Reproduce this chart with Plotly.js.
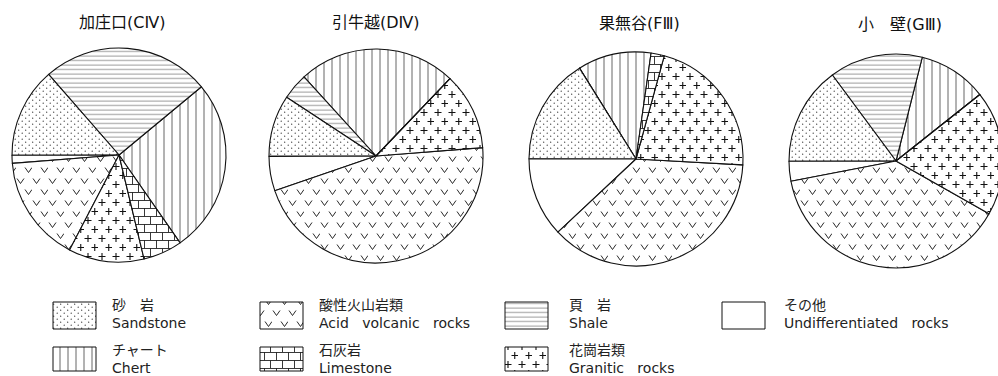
<!DOCTYPE html>
<html>
<head>
<meta charset="utf-8">
<script src="https://cdn.plot.ly/plotly-3.0.1.min.js"></script>
<style>
html, body { margin: 0; padding: 0; overflow: hidden; background: #fff; }
</style>
</head>
<body>
<div id="chart"></div>
<script>
var rockTypes = ['Chert', 'Shale', 'Sandstone', 'Undifferentiated', 'Acid volcanic', 'Granitic', 'Limestone'];

var siteNames = ['加庄口(CⅣ)', '引牛越(DⅣ)', '果無谷(FⅢ)', '小　壁(GⅢ)'];

// share of each rock type (%), same order as rockTypes
var kashoguchi = [26.3, 25.4, 13.6, 1.2, 16.1, 11.4, 5.9];
var hikiushigoe = [23.9, 4.0, 9.3, 5.2, 46.0, 11.6, 0];
var hatenashidani = [11.1, 0, 16.1, 12.0, 37.1, 21.6, 2.0];
var kokabe = [10.4, 14.1, 14.9, 3.0, 38.8, 18.9, 0];

var legendJa = ['チャート', '頁　岩', '砂　岩', 'その他', '酸性火山岩類', '花崗岩類', '石灰岩'];
var legendEn = ['Chert', 'Shale', 'Sandstone', 'Undifferentiated rocks', 'Acid volcanic rocks', 'Granitic rocks', 'Limestone'];

var W = 1010, H = 376;
var fontFam = 'DejaVu Sans, Noto Sans CJK JP, sans-serif';

// textures drawn inside the slices / legend boxes
var textures = {
  'Chert': {w: 8, h: 4, marks: '<path d="M4,0V4" stroke="#555" stroke-width="0.9"/>'},
  'Shale': {w: 6, h: 4.5, marks: '<path d="M0,2H6" stroke="#666" stroke-width="0.7"/>'},
  'Sandstone': {w: 7, h: 6, marks: '<circle cx="1.2" cy="1.2" r="0.6" fill="#222"/><circle cx="4.7" cy="4.2" r="0.6" fill="#222"/>'},
  'Undifferentiated': {w: 4, h: 4, marks: ''},
  'Acid volcanic': {w: 16, h: 22, marks: '<path d="M1,2.5L4.5,7.5L8,2.5M9,13.5L12.5,18.5L16,13.5" stroke="#111" stroke-width="0.9" fill="none"/>'},
  'Granitic': {w: 14, h: 18, marks: '<path d="M0.5,4.5H7.5M4,1V8M7.5,13.5H14M10.75,10V17" stroke="#111" stroke-width="1.1"/>'},
  'Limestone': {w: 12, h: 16, marks: '<path d="M0,0.5H12M0,8.5H12M0.5,0V8.5M6.5,8.5V16" stroke="#222" stroke-width="0.9" fill="none"/>'}
};

function px(x) { return x / W; }
function py(y) { return 1 - y / H; }

var allValues = [kashoguchi, hikiushigoe, hatenashidani, kokabe];
var centers = [[119, 155], [376, 156], [636, 159], [896, 161]];
var rotations = [50.4, -42.3, -31.9, 14.2];
var r = 107;

var data = [];
var annotations = [];
for (var i = 0; i < allValues.length; i++) {
  var cx = centers[i][0], cy = centers[i][1];
  data.push({
    type: 'pie',
    labels: rockTypes,
    values: allValues[i],
    sort: false,
    direction: 'counterclockwise',
    rotation: rotations[i],
    textinfo: 'none',
    hoverinfo: 'none',
    marker: {colors: rockTypes.map(function() { return '#ffffff'; }), line: {color: '#111', width: 1.1}},
    domain: {x: [px(cx - r), px(cx + r)], y: [py(cy + r), py(cy - r)]}
  });
}

var titleX = [122, 376, 639, 900];
var titleY = [22, 22, 23, 25];
for (var i = 0; i < siteNames.length; i++) {
  annotations.push({
    text: siteNames[i], xref: 'paper', yref: 'paper',
    x: px(titleX[i]), y: py(titleY[i]), xanchor: 'center', yanchor: 'middle',
    showarrow: false, font: {family: fontFam, size: 16, color: '#111'}
  });
}

// legend grid: [column, row] for each rock type
var legendCell = {
  'Sandstone': [0, 0], 'Chert': [0, 1],
  'Acid volcanic': [1, 0], 'Limestone': [1, 1],
  'Shale': [2, 0], 'Granitic': [2, 1],
  'Undifferentiated': [3, 0]
};
var boxX = [53, 260, 505, 722];
var textX = [110, 317, 567, 782];
var boxY = [[302, 329], [347, 371]];
var textMid = [314, 359];
var wideGap = '\u00a0\u00a0\u00a0';

var shapes = [];
var shapeTex = [];
rockTypes.forEach(function(rock, k) {
  var c = legendCell[rock];
  shapes.push({
    type: 'rect', xref: 'paper', yref: 'paper',
    x0: px(boxX[c[0]]), x1: px(boxX[c[0]] + 43),
    y0: py(boxY[c[1]][1]), y1: py(boxY[c[1]][0]),
    line: {color: '#111', width: 1}, fillcolor: '#ffffff'
  });
  shapeTex.push(rock);
  annotations.push({
    text: legendJa[k] + '<br>' + legendEn[k].split(' ').join(wideGap), xref: 'paper', yref: 'paper',
    x: px(textX[c[0]]), y: py(textMid[c[1]]), xanchor: 'left', yanchor: 'middle', align: 'left',
    showarrow: false, font: {family: fontFam, size: 14, color: '#222'}
  });
});

var layout = {
  width: W, height: H,
  margin: {l: 0, r: 0, t: 0, b: 0},
  showlegend: false,
  paper_bgcolor: '#fff',
  annotations: annotations,
  shapes: shapes
};

function texId(rock) { return 'tex-' + rock.replace(/\s+/g, '-'); }

function applyTextures(gd) {
  var svg = gd.querySelector('svg.main-svg');
  var defs = document.createElementNS('http://www.w3.org/2000/svg', 'defs');
  var html = '';
  for (var k in textures) {
    var t = textures[k];
    html += '<pattern id="' + texId(k) + '" patternUnits="userSpaceOnUse" width="' + t.w + '" height="' + t.h + '">' +
      '<rect width="' + t.w + '" height="' + t.h + '" fill="#fff"/>' + t.marks + '</pattern>';
  }
  defs.innerHTML = html;
  svg.insertBefore(defs, svg.firstChild);

  gd.querySelectorAll('g.slice path.surface').forEach(function(p) {
    var pt = p.__data__;
    if (pt && pt.label) p.style.fill = 'url(#' + texId(pt.label) + ')';
  });
  gd.querySelectorAll('.shapelayer path').forEach(function(p, n) {
    var idx = p.getAttribute('data-index');
    idx = idx === null ? n : parseInt(idx);
    if (shapeTex[idx]) p.style.fill = 'url(#' + texId(shapeTex[idx]) + ')';
  });
}

Plotly.newPlot('chart', data, layout, {staticPlot: true}).then(applyTextures);
</script>
</body>
</html>
